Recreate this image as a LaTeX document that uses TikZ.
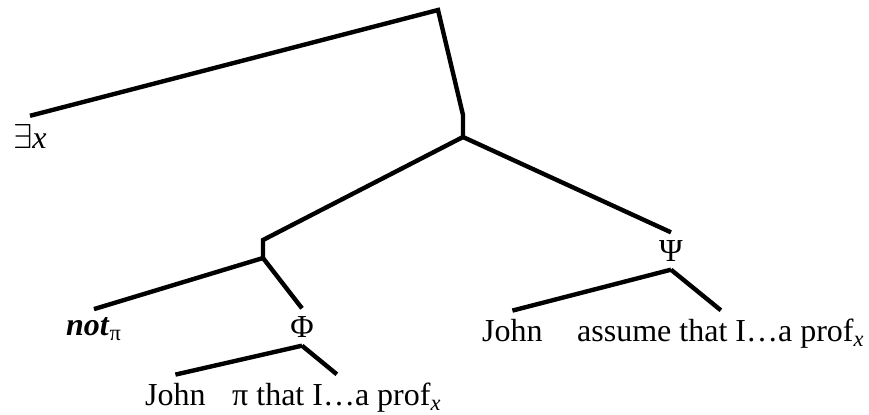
\documentclass[tikz,border=0pt]{standalone}
\usepackage{fontspec}
\setmainfont{Liberation Serif}
\usetikzlibrary{positioning}

\begin{document}
\begin{tikzpicture}[x=0.5pt,y=-0.5pt,line width=2.2pt,
    every node/.style={font=\fontsize{16}{19}\selectfont,inner sep=3pt},
    leaf/.style={anchor=base west}]
  \useasboundingbox (0,0) rectangle (869,414);
  \coordinate (top) at (438,10);
  \coordinate (k1) at (463,115);
  \coordinate (m1) at (463,137);
  \coordinate (k2) at (263,240);
  \coordinate (m2) at (263,258);
  \node (ex) at (30,136) {$\exists$\textit{x}};
  \node (neg) at (94,329) {\textbf{\textit{not}}\textsubscript{π}};
  \node (phi) at (302,327) {Φ};
  \node (psi) at (671,251) {Ψ};
  \node[leaf] (j1) at (137,405) {John};
  \node[leaf] (p1) at (224,405) {π that I…a prof\textsubscript{\textit{x}}};
  \node[leaf] (j2) at (474,341) {John};
  \node[leaf] (a2) at (569,341) {assume that I…a prof\textsubscript{\textit{x}}};
  \draw (ex.north) -- (top) -- (k1) -- (m1);
  \draw (m1) -- (k2) -- (m2);
  \path[draw]
    (m1) edge (psi.north)
    (m2) edge (neg.north)
    (m2) edge (phi.north)
    (phi.south) edge (j1.north)
    (phi.south) edge (p1.north)
    (psi.south) edge (j2.north)
    (psi.south) edge (a2.north);
\end{tikzpicture}
\end{document}
